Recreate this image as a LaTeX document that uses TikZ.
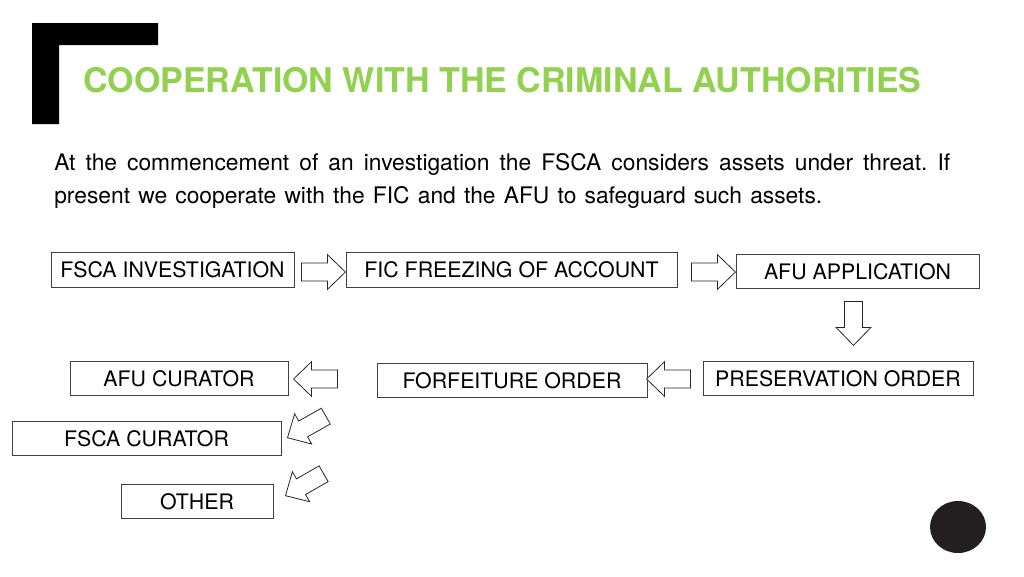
\documentclass[tikz,border=0pt]{standalone}
\usepackage{fontspec}
\setmainfont{TeX Gyre Heros}
\usetikzlibrary{shapes.arrows}
\definecolor{titlegreen}{HTML}{92D050}
\definecolor{framegray}{HTML}{404040}
\definecolor{dotblack}{HTML}{231F20}
\tikzset{
  x=0.75pt,y=-0.75pt,
  flowbox/.style={draw=framegray,line width=0.6pt,fill=white,inner sep=0pt,text height=12.5pt,text depth=0pt,font=\fontsize{16}{19}\selectfont,text=black},
  blockarrow/.style={single arrow,draw=black!85,line width=0.6pt,fill=white,inner sep=0pt,
    text height=13pt,text depth=0pt,text width=0pt,
    minimum height=33pt,minimum width=25.5pt,single arrow head extend=6.2pt,single arrow tip angle=88,anchor=tip},
  bodytext/.style={anchor=base west,inner sep=0pt,font=\fontsize{17.1}{20}\selectfont,text=black},
  titletext/.style={anchor=base west,inner sep=0pt,font=\fontsize{25.5}{28}\selectfont\bfseries,text=titlegreen},
}
\frenchspacing
\begin{document}
\begin{tikzpicture}
\useasboundingbox (0,0) rectangle (1024,576);
\fill[black] (32,23) -- (158,23) -- (158,45) -- (59,45) -- (59,124) -- (32,124) -- cycle;
\node[titletext] (title) at (83,92) {COOPERATION WITH THE CRIMINAL AUTHORITIES};
\node[bodytext] (line1) at (54,170) {\makebox[672pt][s]{\frenchspacing At the commencement of an investigation the FSCA considers assets under threat. If}};
\node[bodytext] (line2) at (54,203) {\makebox[576pt][s]{\frenchspacing present we cooperate with the FIC and the AFU to safeguard such assets.}};
\node[flowbox,minimum width=182.25pt,minimum height=26.25pt] (inv) at (172.5,269.5) {FSCA INVESTIGATION};
\node[flowbox,minimum width=248.25pt,minimum height=26.25pt] (fic) at (511.5,269.5) {FIC FREEZING OF ACCOUNT};
\node[flowbox,minimum width=182.25pt,minimum height=25.5pt] (app) at (857.5,271) {AFU APPLICATION};
\node[flowbox,minimum width=202.5pt,minimum height=25.5pt] (pres) at (838,378) {PRESERVATION ORDER};
\node[flowbox,minimum width=202.5pt,minimum height=25.5pt] (forf) at (512,380) {FORFEITURE ORDER};
\node[flowbox,minimum width=163.5pt,minimum height=25.5pt] (cur) at (179,378) {AFU CURATOR};
\node[flowbox,minimum width=201.75pt,minimum height=25.5pt] (fsca) at (146.5,438) {FSCA CURATOR};
\node[flowbox,minimum width=114pt,minimum height=25.5pt] (other) at (197,501) {OTHER};
\node[blockarrow] (a1) at (346,272) {};
\node[blockarrow] (a2) at (736,272) {};
\node[blockarrow,rotate=-90] (a3) at (853.5,346) {};
\node[blockarrow,rotate=180] (a4) at (646,379) {};
\node[blockarrow,rotate=180] (a5) at (293,379) {};
\node[blockarrow,rotate=209.4] (a6) at (287,438) {};
\node[blockarrow,rotate=210] (a7) at (285,496) {};
\fill[dotblack] (958,527) ellipse [x radius=28, y radius=26];
\end{tikzpicture}
\end{document}
